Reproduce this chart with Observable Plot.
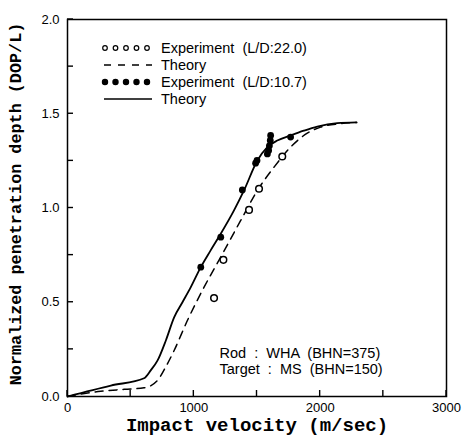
<!DOCTYPE html>
<html><head><meta charset="utf-8">
<script src="https://cdn.jsdelivr.net/npm/d3@7"></script>
<script src="https://cdn.jsdelivr.net/npm/@observablehq/plot@0.6"></script>
<style>
body{margin:0;background:#fff;}
#wrap{position:relative;width:463px;height:438px;}
</style>
</head><body><div id="wrap"></div>
<script>
// Theory curve, L/D 10.7 (solid)
const solidV = [0, 343, 606, 660, 712, 780, 844, 910, 976, 1055, 1133, 1213, 1318, 1397, 1503, 1582, 1661, 1766, 1870, 1977, 2135, 2288];
const solidD = [0, 0.058, 0.097, 0.14, 0.19, 0.3, 0.42, 0.5, 0.58, 0.686, 0.775, 0.863, 0.987, 1.093, 1.252, 1.323, 1.358, 1.385, 1.41, 1.432, 1.45, 1.454];
// Theory curve, L/D 22.0 (dashed)
const dashV = [0, 264, 450, 606, 712, 780, 844, 949, 1081, 1213, 1371, 1503, 1635, 1766, 1898, 2004, 2150, 2288];
const dashD = [0, 0.028, 0.038, 0.046, 0.085, 0.16, 0.244, 0.403, 0.58, 0.74, 0.934, 1.093, 1.217, 1.323, 1.397, 1.429, 1.447, 1.454];
// Experiment L/D 22.0 (open circles)
const exp22V = [1160, 1234, 1437, 1516, 1700];
const exp22D = [0.522, 0.725, 0.99, 1.102, 1.273];
// Experiment L/D 10.7 (filled circles)
const exp107V = [1055, 1213, 1384, 1489, 1500, 1582, 1592, 1598, 1605, 1608, 1766];
const exp107D = [0.686, 0.845, 1.096, 1.238, 1.252, 1.287, 1.305, 1.33, 1.358, 1.385, 1.376];

const xTicks = [0, 500, 1000, 1500, 2000, 2500, 3000];
const xLabels = [0, 1000, 2000, 3000];
const yTicks = [0, 0.25, 0.5, 0.75, 1.0, 1.25, 1.5, 1.75, 2.0];
const yLabels = [0, 0.5, 1.0, 1.5, 2.0];

const legendItems = ["Experiment  (L/D:22.0)", "Theory", "Experiment  (L/D:10.7)", "Theory"];
const noteLines = ["Rod  :  WHA  (BHN=375)", "Target  :  MS  (BHN=150)"];

const solid = solidV.map((v, i) => ({v, d: solidD[i]}));
const dash = dashV.map((v, i) => ({v, d: dashD[i]}));
const e22 = exp22V.map((v, i) => ({v, d: exp22D[i]}));
const e107 = exp107V.map((v, i) => ({v, d: exp107D[i]}));

const tickFont = "Liberation Sans, Arial, sans-serif";
const labelFont = "Liberation Mono, Courier New, monospace";

const chart = Plot.plot({
  width: 463, height: 438,
  marginLeft: 67, marginRight: 17, marginTop: 19, marginBottom: 42,
  style: {fontFamily: tickFont, fontSize: "13px", color: "#000", background: "#fff"},
  x: {domain: [0, 3000]},
  y: {domain: [0, 2.0]},
  marks: [
    Plot.frame({stroke: "#000", strokeWidth: 1.5}),
    Plot.axisX({ticks: xLabels, tickSize: 0, tickPadding: 6, tickFormat: d => String(d), fontSize: 13,
      label: "Impact velocity (m/sec)", labelAnchor: "center", labelArrow: "none", labelOffset: 34}),
    Plot.axisY({ticks: yLabels, tickSize: 0, tickPadding: 8, tickFormat: d3.format(".1f"), fontSize: 13,
      label: null}),
    Plot.line(dash, {x: "v", y: "d", curve: "monotone-x", stroke: "#000", strokeWidth: 1.5, strokeDasharray: "8,6"}),
    Plot.line(solid, {x: "v", y: "d", curve: "monotone-x", stroke: "#000", strokeWidth: 1.8}),
    Plot.dot(e22, {x: "v", y: "d", r: 3.3, stroke: "#000", strokeWidth: 1.5, fill: "#fff"}),
    Plot.dot(e107, {x: "v", y: "d", r: 3.4, fill: "#000", stroke: "none"}),
    Plot.text([noteLines.join("\n")], {frameAnchor: "bottom-left", dx: 152, dy: -23, textAnchor: "start",
      lineAnchor: "bottom", fontSize: 14.5, lineHeight: 1.1, fill: "#000"})
  ]
});
const wrap = document.getElementById("wrap");
wrap.appendChild(chart);

const svg = d3.select(chart);
const sx = chart.scale("x"), sy = chart.scale("y");
const x0 = sx.apply(0), y0 = sy.apply(0);
// inward ticks positioned with Plot's own scales
const tg = svg.append("g").attr("class", "inward-ticks").attr("stroke", "#000").attr("stroke-width", 1.4);
xTicks.forEach(v => {
  const px = sx.apply(v);
  tg.append("line").attr("x1", px).attr("x2", px).attr("y1", y0).attr("y2", y0 - 6);
});
yTicks.forEach(v => {
  const py = sy.apply(v);
  tg.append("line").attr("x1", x0).attr("x2", x0 + 6).attr("y1", py).attr("y2", py);
});

svg.selectAll("[aria-label='x-axis label'] text")
  .attr("font-family", labelFont).attr("font-weight", "bold").attr("font-size", 19);
svg.append("text")
  .attr("transform", "translate(17,204) rotate(-90)")
  .attr("text-anchor", "middle")
  .attr("dominant-baseline", "middle")
  .attr("font-family", labelFont).attr("font-weight", "bold").attr("font-size", 16.8)
  .attr("fill", "#000")
  .text("Normalized penetration depth (DOP/L)");

// Legend
const lg = svg.append("g").attr("class", "legend").attr("text-anchor", "start");
const rowY = [48, 65, 82, 99];
const symX0 = 104, symX1 = 150, textX = 161;
legendItems.forEach((t, i) => {
  const y = rowY[i];
  if (i === 0 || i === 2) {
    for (let k = 0; k < 5; k++) {
      const cx = symX0 + k * 10.5 + 1;
      lg.append("circle").attr("cx", cx).attr("cy", y).attr("r", i === 0 ? 2.3 : 2.6)
        .attr("fill", i === 0 ? "#fff" : "#000").attr("stroke", "#000").attr("stroke-width", 1.2);
    }
  } else {
    lg.append("line").attr("x1", symX0).attr("x2", symX1 + 2).attr("y1", y).attr("y2", y)
      .attr("stroke", "#000").attr("stroke-width", 1.3)
      .attr("stroke-dasharray", i === 1 ? "7,7" : null);
  }
  lg.append("text").attr("x", textX).attr("y", y).attr("dy", "0.35em")
    .attr("text-anchor", "start")
    .attr("font-family", tickFont).attr("font-size", 14.5).attr("fill", "#000")
    .style("white-space", "pre").text(t);
});
</script></body></html>
